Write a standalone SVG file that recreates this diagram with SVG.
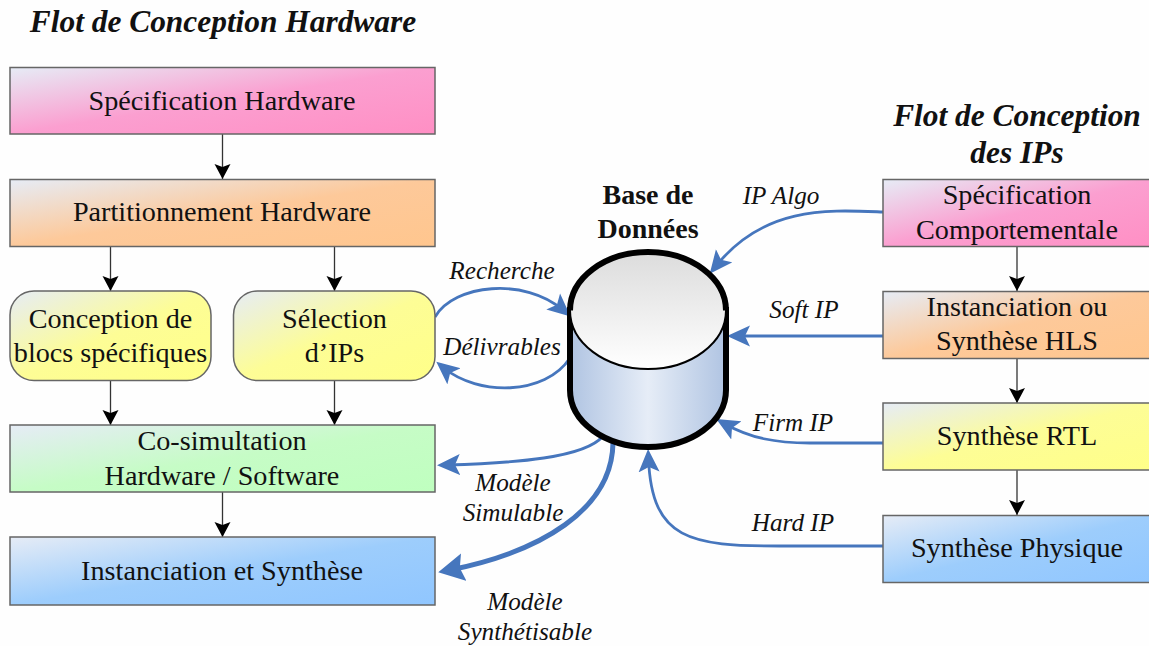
<svg xmlns="http://www.w3.org/2000/svg" width="1149" height="646" viewBox="0 0 1149 646">
<style>
text{font-family:"Liberation Serif","Times New Roman",serif;fill:#111;text-anchor:middle}
.n{font-size:28.200px}
.l{font-size:25.200px;font-style:italic}
.t{font-size:31.400px;font-style:italic;font-weight:bold}
.d{font-size:28px;font-weight:bold}
.box{stroke:#666;stroke-width:1.500}
.k{fill:none;stroke:#333;stroke-width:1.300;marker-end:url(#ka)}
.b{fill:none;stroke:#4676bd;stroke-width:2.800;marker-end:url(#ba)}
.bt{fill:none;stroke:#4676bd;stroke-width:5;marker-end:url(#bb)}
</style>
<defs>
<linearGradient id="pink" x1="0" y1="0" x2="1" y2="1"><stop offset="0" stop-color="#e6ecf6"/><stop offset="0.5" stop-color="#fb9fd0"/><stop offset="1" stop-color="#ff8fc4"/></linearGradient>
<linearGradient id="orange" x1="0" y1="0" x2="1" y2="1"><stop offset="0" stop-color="#e6ecf6"/><stop offset="0.5" stop-color="#fdc99a"/><stop offset="1" stop-color="#ffc68e"/></linearGradient>
<linearGradient id="yellow" x1="0" y1="0" x2="1" y2="1"><stop offset="0" stop-color="#e6ecf6"/><stop offset="0.5" stop-color="#fdfd96"/><stop offset="1" stop-color="#ffff88"/></linearGradient>
<linearGradient id="green" x1="0" y1="0" x2="1" y2="1"><stop offset="0" stop-color="#e6ecf6"/><stop offset="0.5" stop-color="#c6fcc6"/><stop offset="1" stop-color="#bfffbf"/></linearGradient>
<linearGradient id="blue" x1="0" y1="0" x2="1" y2="1"><stop offset="0" stop-color="#e6ecf6"/><stop offset="0.5" stop-color="#9dcdfc"/><stop offset="1" stop-color="#90c6ff"/></linearGradient>
<linearGradient id="cyl" x1="0" y1="0" x2="1" y2="0"><stop offset="0" stop-color="#b0c4e2"/><stop offset="0.5" stop-color="#e6edf7"/><stop offset="1" stop-color="#b0c4e2"/></linearGradient>
<linearGradient id="top" x1="0" y1="0" x2="0" y2="1"><stop offset="0" stop-color="#dcdcdc"/><stop offset="1" stop-color="#ffffff"/></linearGradient>
<marker id="ka" markerUnits="userSpaceOnUse" markerWidth="18" markerHeight="18" refX="15" refY="8.500" orient="auto"><path d="M0,0.500 L15,8.500 L0,16.500 L3,8.500Z" fill="#000"/></marker>
<marker id="ba" markerUnits="userSpaceOnUse" markerWidth="26" markerHeight="24" refX="13" refY="11" orient="auto"><path d="M0,0.500 L23,11 L0,21.500 L5,11Z" fill="#4676bd"/></marker>
<marker id="bb" markerUnits="userSpaceOnUse" markerWidth="30" markerHeight="30" refX="14" refY="14" orient="auto"><path d="M0,0 L26,14 L0,28 L4,14Z" fill="#4676bd"/></marker>
</defs>
<rect width="1149" height="646" fill="#fefefe"/>
<g id="connectors">
<path class="k" d="M222.500 134V179"/>
<path class="k" d="M110.500 247V291"/>
<path class="k" d="M334.500 247V291"/>
<path class="k" d="M110.500 380V425"/>
<path class="k" d="M334.500 380V425"/>
<path class="k" d="M222.500 492V537"/>
<path class="k" d="M1017 247V291"/>
<path class="k" d="M1017 358V403"/>
<path class="k" d="M1017 470V515"/>
<path class="b" d="M435 317C454 284 525 277 563 310"/>
<path class="b" d="M570 358C545 396 478 396 444 368"/>
<path class="b" d="M883 212C830 210 765 205 716 266"/>
<path class="b" d="M883 336H737"/>
<path class="b" d="M883 443H810C775 443 750 438 725 424"/>
<path class="b" d="M883 546H780C690 546 652 540 648.500 459"/>
<path class="b" d="M603 436C585 458 515 463 447 465"/>
<path class="bt" d="M613 443C612 510 540 552 450 570"/>
</g>
<g id="db">
<path d="M570 310V390C570 422 605 447 648 447S726 422 726 390V310Z" fill="url(#cyl)" stroke="#000" stroke-width="6"/>
<ellipse cx="648" cy="310.500" rx="78" ry="58.500" fill="url(#top)" stroke="#000" stroke-width="2"/>
<path d="M570 310.500C570 278 605 252 648 252S726 278 726 310.500" fill="none" stroke="#000" stroke-width="6"/>
<text class="d" x="648" y="204">Base de</text>
<text class="d" x="648" y="238">Données</text>
</g>
<g id="spec-hw"><rect class="box" x="10" y="67.500" width="425" height="66.500" fill="url(#pink)"/><text class="n" x="222" y="110">Spécification Hardware</text></g>
<g id="part-hw"><rect class="box" x="10" y="179.500" width="425" height="67" fill="url(#orange)"/><text class="n" x="222" y="221">Partitionnement Hardware</text></g>
<g id="conception"><rect class="box" x="10" y="291" width="201" height="89.500" rx="24" fill="url(#yellow)"/><text class="n" x="110.500" y="328">Conception de</text><text class="n" x="110.500" y="362">blocs spécifiques</text></g>
<g id="selection"><rect class="box" x="233.500" y="291" width="201.500" height="89.500" rx="24" fill="url(#yellow)"/><text class="n" x="334.500" y="328">Sélection</text><text class="n" x="334.500" y="362">d’IPs</text></g>
<g id="cosim"><rect class="box" x="10" y="425" width="425" height="67" fill="url(#green)"/><text class="n" x="222" y="450">Co-simultation</text><text class="n" x="222" y="485">Hardware / Software</text></g>
<g id="inst-synth"><rect class="box" x="10" y="537" width="425" height="68" fill="url(#blue)"/><text class="n" x="222" y="580">Instanciation et Synthèse</text></g>
<g id="spec-comp"><rect class="box" x="883" y="179.500" width="270" height="67" fill="url(#pink)"/><text class="n" x="1017" y="204">Spécification</text><text class="n" x="1017" y="239">Comportementale</text></g>
<g id="inst-hls"><rect class="box" x="883" y="291.500" width="270" height="67" fill="url(#orange)"/><text class="n" x="1017" y="316">Instanciation ou</text><text class="n" x="1017" y="350">Synthèse HLS</text></g>
<g id="synth-rtl"><rect class="box" x="883" y="403" width="270" height="67" fill="url(#yellow)"/><text class="n" x="1017" y="445">Synthèse RTL</text></g>
<g id="synth-phys"><rect class="box" x="883" y="515.500" width="270" height="67" fill="url(#blue)"/><text class="n" x="1017" y="557">Synthèse Physique</text></g>
<g id="labels">
<text class="t" x="223" y="32">Flot de Conception Hardware</text>
<text class="t" x="1017" y="126">Flot de Conception</text>
<text class="t" x="1017" y="163">des IPs</text>
<text class="l" x="502" y="279">Recherche</text>
<text class="l" x="502" y="355">Délivrables</text>
<text class="l" x="781" y="204">IP Algo</text>
<text class="l" x="804" y="318">Soft IP</text>
<text class="l" x="793" y="431">Firm IP</text>
<text class="l" x="793" y="531">Hard IP</text>
<text class="l" x="513" y="491">Modèle</text>
<text class="l" x="513" y="521">Simulable</text>
<text class="l" x="525" y="610">Modèle</text>
<text class="l" x="525" y="640">Synthétisable</text>
</g>
</svg>
